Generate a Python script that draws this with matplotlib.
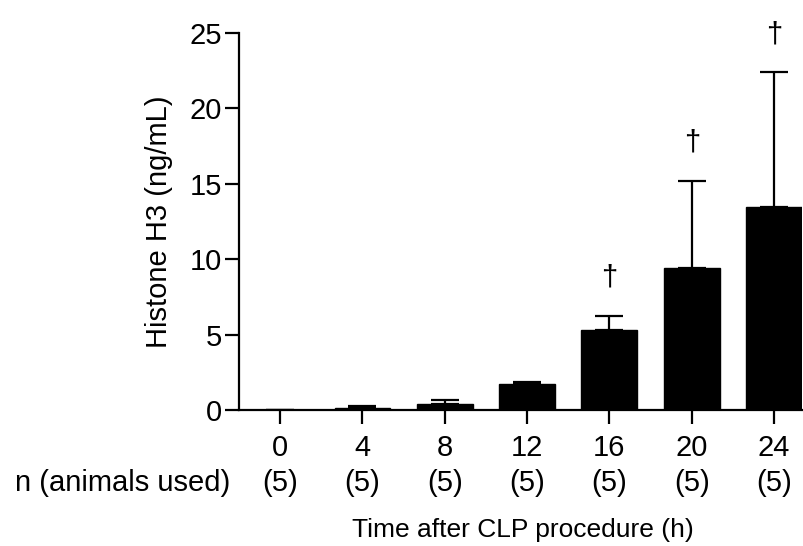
import numpy as np
import matplotlib
matplotlib.use('Agg')
import matplotlib.pyplot as plt

plt.rcParams['font.family'] = ['Liberation Sans', 'DejaVu Sans']

# Histone H3 levels after CLP
hours = ['0', '4', '8', '12', '16', '20', '24']
means = [0.0, 0.15, 0.43, 1.73, 5.30, 9.42, 13.48]
sds = [0.0, 0.11, 0.26, 0.13, 0.93, 5.78, 8.9]
n_used = ['(5)', '(5)', '(5)', '(5)', '(5)', '(5)', '(5)']
dagger = [False, False, False, False, True, True, True]

fig = plt.figure(figsize=(8.04, 5.46), dpi=100)
ax = fig.add_axes([0.2973, 0.2491, 0.7002, 0.6905])

x = np.arange(len(hours))
ax.bar(x, means, width=0.68, color='black', edgecolor='black', zorder=2)
ax.errorbar(x, means, yerr=[np.zeros(len(sds)), sds], fmt='none', ecolor='black',
            elinewidth=1.6, capsize=10, capthick=1.6, zorder=3)

for xi, m, s, d in zip(x, means, sds, dagger):
    if d:
        ax.text(xi, m + s + 2.0, '\u2020', ha='center', va='baseline', fontsize=21, clip_on=False)

ax.set_xlim(-0.5, 6.34)
ax.set_ylim(0, 25)
ax.set_yticks([0, 5, 10, 15, 20, 25])
ax.set_xticks(x)
ax.set_xticklabels(hours)

for sp in ['top', 'right']:
    ax.spines[sp].set_visible(False)
for sp in ['left', 'bottom']:
    ax.spines[sp].set_linewidth(1.6)

ax.tick_params(axis='both', direction='out', length=10, width=1.6, labelsize=21)
ax.tick_params(axis='x', pad=7)
ax.tick_params(axis='y', pad=2)

tr = ax.get_xaxis_transform()
for xi, lab in zip(x, n_used):
    ax.text(xi, -0.194, lab, transform=tr, ha='center', va='center', fontsize=21)
ax.text(-0.016, -0.194, 'n (animals used)', transform=ax.transAxes, ha='right', va='center', fontsize=21)

ax.text(0.505, -0.318, 'Time after CLP procedure (h)', transform=ax.transAxes,
        ha='center', va='center', fontsize=19)
ax.set_ylabel('Histone H3 (ng/mL)', fontsize=21, labelpad=12)

fig.savefig('out.png', dpi=100)
